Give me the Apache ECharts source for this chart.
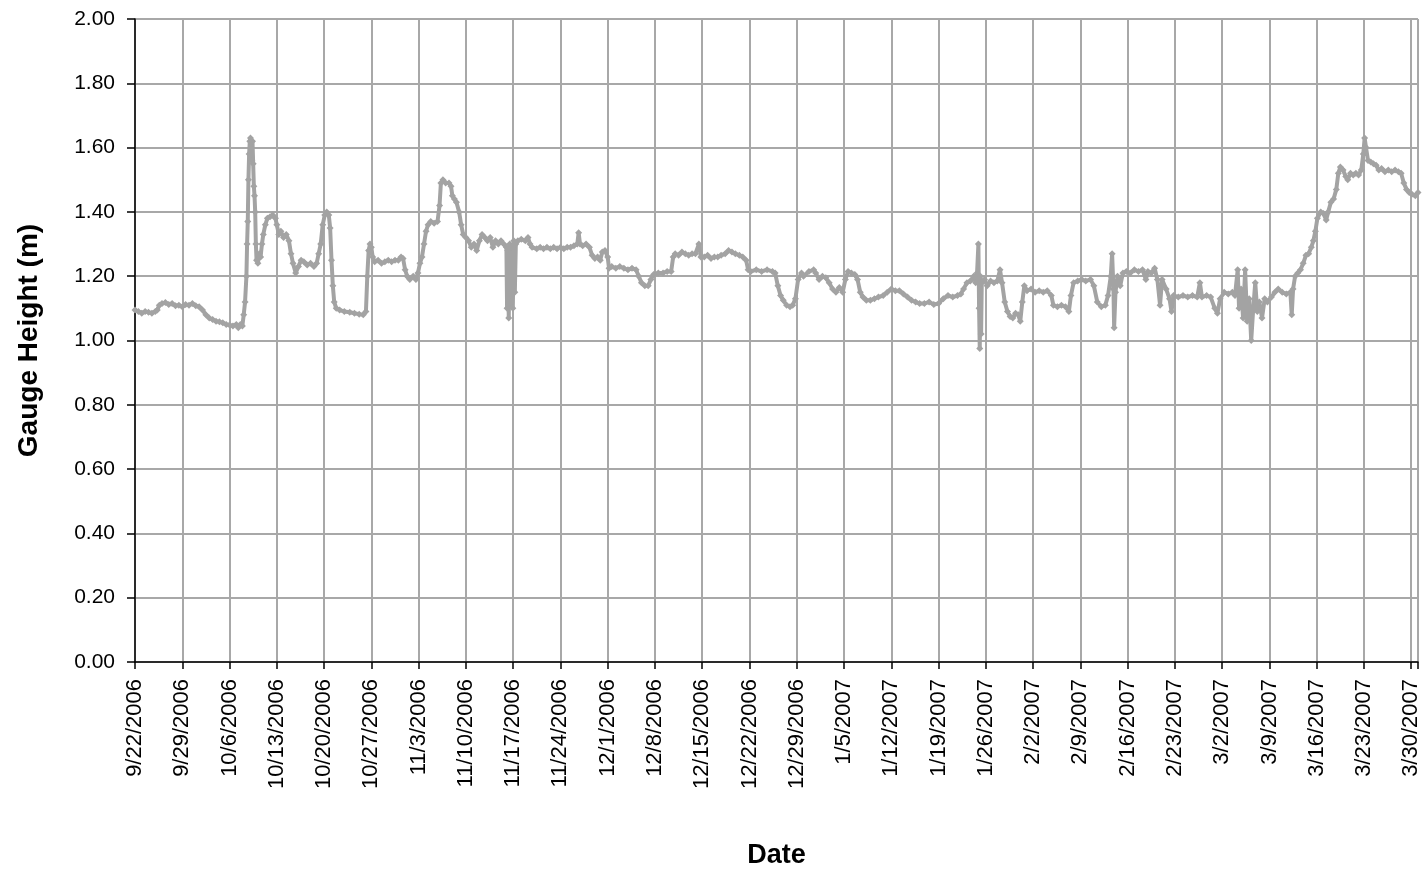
<!DOCTYPE html>
<html>
<head>
<meta charset="utf-8">
<script src="https://cdn.jsdelivr.net/npm/echarts@6/dist/echarts.min.js"></script>
<style>
html,body{margin:0;padding:0;background:#fff;}
#chart{width:1424px;height:876px;}
</style>
</head>
<body>
<div id="chart"></div>
<script>
// Observation time as days elapsed since 9/22/2006 00:00, paired with gauge height (m)
const startDate = Date.UTC(2006, 8, 22);

const obsSepOct = [
  [0.0,1.095],[0.5,1.09],[1.0,1.085],[1.5,1.09],[2.0,1.088],[2.5,1.085],[3.0,1.09],[3.3,1.095],
  [3.6,1.11],[4.0,1.115],[4.5,1.118],[5.0,1.112],[5.5,1.115],[6.0,1.108],[6.5,1.11],[7.0,1.105],
  [7.5,1.112],[8.0,1.11],[8.5,1.115],[9.0,1.108],[9.5,1.105],[10.0,1.095],[10.5,1.08],[11.0,1.07],
  [11.5,1.065],[12.0,1.06],[12.5,1.058],[13.0,1.055],[13.5,1.05],[14.0,1.048],[14.5,1.045],[15.0,1.05],
  [15.3,1.04],[15.6,1.05],[15.9,1.045],[16.1,1.08],[16.3,1.12],[16.5,1.2],[16.6,1.3],[16.7,1.37],
  [16.8,1.5],[16.9,1.58],[17.0,1.62],[17.1,1.63],[17.2,1.6],[17.3,1.56],[17.4,1.62],[17.5,1.55],
  [17.6,1.48],[17.7,1.45],[17.8,1.40],[17.9,1.30],[18.0,1.25],[18.2,1.24],[18.4,1.27],[18.6,1.26],
  [18.8,1.30],[19.0,1.33],[19.3,1.36],[19.6,1.38],[20.0,1.385],[20.4,1.39],[20.8,1.38],[21.0,1.36],
  [21.3,1.33],[21.6,1.34],[22.0,1.32],[22.4,1.33],[22.8,1.31],[23.1,1.27],[23.4,1.24],[23.8,1.21],
  [24.2,1.23],[24.6,1.25],[25.0,1.245],[25.5,1.235],[26.0,1.24],[26.5,1.23],[26.9,1.24],[27.2,1.27],
  [27.5,1.30],[27.8,1.36],[28.1,1.39],[28.4,1.40],[28.7,1.39],[28.9,1.35],[29.1,1.25],[29.3,1.17],
  [29.5,1.12],[29.8,1.10],[30.3,1.095],[31.0,1.09],[31.8,1.088],[32.5,1.085],[33.2,1.082],[33.8,1.08],
  [34.2,1.09],[34.4,1.20],[34.6,1.28],[34.8,1.30],[35.0,1.29],[35.2,1.26],[35.5,1.245],[36.0,1.25],
  [36.5,1.24],[37.0,1.245],[37.5,1.25],[38.0,1.245],[38.5,1.25],[39.0,1.25]
];
const obsNov = [
  [39.4,1.26],[39.7,1.255],[40.0,1.22],[40.3,1.20],[40.7,1.19],[41.2,1.20],[41.6,1.19],[41.9,1.21],
  [42.2,1.24],[42.5,1.26],[42.8,1.30],[43.1,1.34],[43.4,1.36],[43.8,1.37],[44.3,1.365],[44.8,1.37],
  [45.1,1.42],[45.3,1.49],[45.6,1.50],[46.0,1.49],[46.5,1.49],[46.8,1.48],[47.0,1.45],[47.3,1.44],
  [47.6,1.43],[48.0,1.40],[48.3,1.36],[48.6,1.33],[49.0,1.32],[49.4,1.31],[49.8,1.29],[50.2,1.30],
  [50.6,1.28],[51.0,1.31],[51.4,1.33],[51.8,1.32],[52.2,1.31],[52.6,1.32],[53.0,1.29],[53.4,1.31],
  [53.8,1.30],[54.2,1.31],[54.6,1.30],[55.0,1.29],[55.1,1.10],[55.2,1.28],[55.35,1.07],[55.5,1.30],
  [55.65,1.12],[55.8,1.29],[55.95,1.10],[56.1,1.31],[56.25,1.15],[56.4,1.30],[56.7,1.31],[57.2,1.315],
  [57.8,1.31],[58.2,1.32],[58.5,1.30],[58.8,1.29],[59.5,1.285],[60.0,1.29],[60.5,1.285],[61.0,1.29],
  [61.5,1.285],[62.0,1.29],[62.5,1.285],[63.0,1.29],[63.5,1.285],[64.0,1.29],[64.5,1.29],[65.0,1.295],
  [65.5,1.30],[65.7,1.335],[65.9,1.30],[66.3,1.295],[66.8,1.30],[67.3,1.29],[67.7,1.265],[68.1,1.255],
  [68.5,1.26],[68.9,1.25],[69.2,1.275]
];
const obsDec = [
  [69.6,1.28],[70.0,1.26],[70.2,1.225],[70.6,1.23],[71.2,1.225],[71.8,1.23],[72.4,1.225],[73.0,1.22],
  [73.6,1.225],[74.2,1.22],[74.6,1.20],[75.0,1.18],[75.5,1.17],[76.0,1.17],[76.4,1.19],[76.8,1.205],
  [77.5,1.21],[78.2,1.21],[78.8,1.215],[79.4,1.215],[79.7,1.26],[80.0,1.27],[80.5,1.265],[81.0,1.275],
  [81.5,1.27],[82.0,1.265],[82.5,1.27],[83.0,1.27],[83.5,1.30],[83.8,1.26],[84.3,1.26],[84.8,1.265],
  [85.3,1.255],[85.8,1.26],[86.3,1.26],[86.8,1.265],[87.4,1.27],[87.9,1.28],[88.4,1.275],[88.9,1.27],
  [89.5,1.265],[90.0,1.26],[90.5,1.25],[90.8,1.22],[91.2,1.215],[92.0,1.22],[92.8,1.215],[93.6,1.22],
  [94.4,1.215],[94.8,1.21],[95.2,1.17],[95.6,1.14],[96.0,1.125],[96.5,1.11],[97.0,1.105],[97.4,1.11],
  [97.8,1.13],[98.2,1.19],[98.7,1.21],[99.0,1.20],[99.8,1.215]
];
const obsJan = [
  [100.5,1.22],[100.8,1.21],[101.3,1.19],[101.8,1.20],[102.3,1.195],[102.8,1.18],[103.3,1.16],[103.8,1.15],
  [104.3,1.165],[104.8,1.15],[105.2,1.19],[105.6,1.215],[106.1,1.21],[106.6,1.205],[107.0,1.19],[107.4,1.15],
  [107.8,1.135],[108.3,1.125],[108.9,1.125],[109.5,1.13],[110.1,1.135],[110.8,1.14],[111.4,1.15],[112.0,1.16],
  [112.6,1.155],[113.2,1.155],[113.8,1.145],[114.4,1.135],[115.0,1.125],[115.6,1.12],[116.2,1.115],[116.9,1.115],
  [117.6,1.12],[118.3,1.112],[119.0,1.115],[119.7,1.13],[120.4,1.14],[121.1,1.135],[121.8,1.14],[122.3,1.145],
  [122.7,1.16],[123.2,1.18],[123.7,1.185],[124.2,1.20],[124.5,1.18],[124.7,1.21],[124.9,1.30],[125.0,1.10],
  [125.1,0.975],[125.2,1.20],[125.3,1.02],[125.4,1.18],[125.8,1.19],[126.2,1.17],[126.7,1.185],[127.2,1.18],
  [127.7,1.185],[128.1,1.22],[128.4,1.18],[128.8,1.12],[129.2,1.09],[129.6,1.075],[130.0,1.07],[130.4,1.085],
  [130.8,1.08]
];
const obsFeb = [
  [131.1,1.06],[131.4,1.12],[131.7,1.17],[132.1,1.155],[132.7,1.16],[133.3,1.15],[133.9,1.155],[134.5,1.15],
  [135.1,1.155],[135.7,1.14],[136.0,1.11],[136.6,1.105],[137.2,1.11],[137.8,1.105],[138.3,1.09],[138.6,1.14],
  [139.0,1.18],[139.6,1.185],[140.2,1.19],[140.8,1.185],[141.5,1.19],[142.0,1.17],[142.5,1.12],[143.1,1.105],
  [143.7,1.11],[144.1,1.14],[144.5,1.20],[144.7,1.27],[144.9,1.16],[145.0,1.04],[145.2,1.15],[145.5,1.20],
  [145.9,1.17],[146.3,1.21],[146.8,1.215],[147.4,1.21],[148.0,1.22],[148.6,1.215],[149.2,1.22],[149.7,1.19],
  [150.0,1.215],[150.5,1.21],[151.0,1.225],[151.4,1.19],[151.8,1.11],[152.1,1.19],[152.7,1.16],[153.2,1.13],
  [153.5,1.09],[153.8,1.14],[154.5,1.135],[155.2,1.14],[155.9,1.135],[156.6,1.14],[157.3,1.135],[157.7,1.18],
  [158.0,1.135],[158.7,1.14],[159.3,1.135]
];
const obsMar = [
  [159.9,1.10],[160.3,1.085],[160.7,1.13],[161.3,1.15],[161.9,1.145],[162.5,1.15],[162.9,1.14],[163.3,1.22],
  [163.5,1.10],[163.8,1.16],[164.1,1.07],[164.4,1.22],[164.7,1.06],[165.0,1.13],[165.3,1.00],[165.6,1.10],
  [165.9,1.18],[166.2,1.09],[166.5,1.12],[166.9,1.07],[167.3,1.13],[167.7,1.12],[168.3,1.135],[168.8,1.15],
  [169.3,1.16],[169.9,1.15],[170.5,1.145],[171.1,1.15],[171.3,1.08],[171.5,1.16],[171.8,1.20],[172.2,1.21],
  [172.6,1.22],[173.0,1.24],[173.4,1.265],[173.8,1.27],[174.2,1.29],[174.5,1.31],[174.8,1.34],[175.1,1.38],
  [175.6,1.40],[176.0,1.395],[176.4,1.375],[176.7,1.40],[177.1,1.43],[177.5,1.44],[177.9,1.47],[178.2,1.52],
  [178.5,1.54],[178.9,1.53],[179.3,1.51],[179.6,1.50],[180.0,1.52],[180.4,1.515],[180.8,1.52],[181.2,1.515],
  [181.6,1.53],[181.9,1.58],[182.1,1.63],[182.3,1.60],[182.6,1.56],[183.0,1.555],[183.4,1.55],[183.8,1.545],
  [184.2,1.53],[184.6,1.535],[185.1,1.525],[185.6,1.53],[186.1,1.525],[186.6,1.53],[187.1,1.525],[187.5,1.52],
  [187.9,1.49],[188.3,1.47],[188.7,1.46],[189.1,1.455],[189.6,1.45],[190.0,1.46]
];

const gaugeData = [].concat(obsSepOct, obsNov, obsDec, obsJan, obsFeb, obsMar);

function dayLabel(d) {
  const dt = new Date(startDate + Math.round(d) * 86400000);
  return (dt.getUTCMonth() + 1) + '/' + dt.getUTCDate() + '/' + dt.getUTCFullYear();
}

const chart = echarts.init(document.getElementById('chart'));
const FONT = '"Liberation Sans", Arial, sans-serif';
chart.setOption({
  animation: false,
  backgroundColor: '#ffffff',
  grid: { left: 135, right: 6, top: 19, bottom: 214, show: true, borderColor: '#000', borderWidth: 1 },
  xAxis: {
    type: 'value', min: 0, max: 190, interval: 7,
    name: 'Date', nameLocation: 'middle', nameGap: 180,
    nameTextStyle: { fontFamily: FONT, fontSize: 27, fontWeight: 'bold', color: '#000' },
    axisLine: { show: true, onZero: false, lineStyle: { color: '#000', width: 1.5 } },
    axisTick: { show: true, length: 7, lineStyle: { color: '#000', width: 1.5 } },
    axisLabel: { rotate: 90, fontFamily: FONT, fontSize: 22, color: '#000', margin: 17,
      formatter: function (v) { return v > 189.5 ? '' : dayLabel(v); } },
    splitLine: { show: true, lineStyle: { color: '#a8a8a8', width: 2 } }
  },
  yAxis: {
    type: 'value', min: 0, max: 2, interval: 0.2,
    name: 'Gauge Height (m)', nameLocation: 'middle', nameGap: 92,
    nameTextStyle: { fontFamily: FONT, fontSize: 28, fontWeight: 'bold', color: '#000' },
    axisLine: { show: true, lineStyle: { color: '#000', width: 1.5 } },
    axisTick: { show: true, length: 8, lineStyle: { color: '#000', width: 1.5 } },
    axisLabel: { fontFamily: FONT, fontSize: 21, color: '#000', margin: 20,
      formatter: function (v) { return v.toFixed(2); } },
    splitLine: { show: true, lineStyle: { color: '#a8a8a8', width: 2 } }
  },
  series: [{
    type: 'line',
    data: gaugeData,
    showSymbol: true,
    showAllSymbol: true,
    symbol: 'diamond',
    symbolSize: 7,
    itemStyle: { color: '#a3a3a3' },
    lineStyle: { color: '#a3a3a3', width: 4 }
  }]
});
</script>
</body>
</html>
